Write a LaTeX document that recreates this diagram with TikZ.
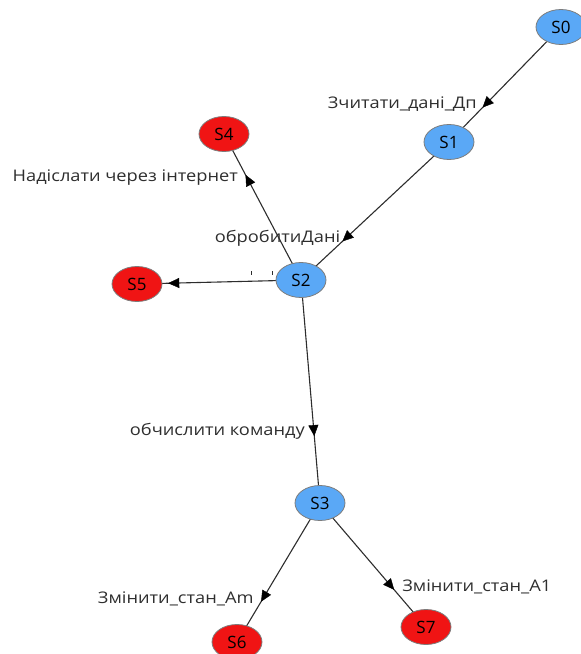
\documentclass[tikz,border=0pt]{standalone}
\usepackage{fontspec}
\setmainfont{Open Sans}
\newfontfamily\lblfont{Open Sans}[FakeStretch=1.14]
\usetikzlibrary{arrows.meta,decorations.markings,shapes.geometric}

\definecolor{stateblue}{RGB}{90,168,246}
\definecolor{statered}{RGB}{240,20,20}
\definecolor{rimgray}{RGB}{125,125,125}
\definecolor{linegray}{RGB}{45,45,45}

\tikzset{
  state/.style={ellipse, draw=rimgray, line width=0.8pt, minimum width=50pt,
    minimum height=35pt, inner sep=0pt, font=\fontsize{17}{19}\selectfont},
  bluestate/.style={state, fill=stateblue},
  redstate/.style={state, fill=statered},
  edge/.style={draw=linegray, line width=1.1pt},
  lbl/.style={font=\lblfont\fontsize{16}{18}\selectfont, text=black!82, inner sep=0pt},
  tip at/.style={decoration={markings, mark=at position #1 with
    {\arrow{Triangle[length=11pt,width=10pt]}}}, decorate},
}

\begin{document}
\begin{tikzpicture}[x=1pt, y=-1pt]
  \useasboundingbox (0,0) rectangle (581,654);

  % state positions
  \coordinate (p0) at (561,27);
  \coordinate (p1) at (449,142);
  \coordinate (p2) at (301,280);
  \coordinate (p3) at (320,503);
  \coordinate (p4) at (224,134);
  \coordinate (p5) at (137,284);
  \coordinate (p6) at (237,642);
  \coordinate (p7) at (426,627);

  % connectors
  \draw[edge] (p0) -- (p1);
  \draw[edge] (p1) -- (p2);
  \draw[edge] (p2) -- (p4);
  \draw[edge] (p2) -- (p5);
  \draw[edge] (p2) -- (p3);
  \draw[edge] (p3) -- (p6);
  \draw[edge] (p3) -- (p7);

  % arrow heads along the connectors
  \path[tip at=0.70, fill=black] (p0) -- (p1);
  \path[tip at=0.72, fill=black] (p1) -- (p2);
  \path[tip at=0.72, fill=black] (p2) -- (p4);
  \path[tip at=0.81, fill=black] (p2) -- (p5);
  \path[tip at=0.70, fill=black] (p2) -- (p3);
  \path[tip at=0.71, fill=black] (p3) -- (p6);
  \path[tip at=0.70, fill=black] (p3) -- (p7);

  % transition labels
  \path (p0) -- (p1) node[pos=0.67, lbl, anchor=east, xshift=-9pt] (l01) {Зчитати\_дані\_Дп};
  \path (p1) -- (p2) node[pos=0.70, lbl, anchor=east, xshift=-5pt] (l12) {обробитиДані};
  \path (p2) -- (p4) node[pos=0.70, lbl, anchor=east, xshift=-9pt] (l24) {Надіслати через інтернет};
  \path (p2) -- (p3) node[pos=0.68, lbl, anchor=east, xshift=-9pt] (l23) {обчислити команду};
  \path (p3) -- (p6) node[pos=0.69, lbl, anchor=east, xshift=-9pt] (l36) {Змінити\_стан\_Am};
  \path (p3) -- (p7) node[pos=0.68, lbl, anchor=west, xshift=10pt] (l37) {Змінити\_стан\_A1};

  % two small ticks above the S2--S5 connector
  \draw[linegray, line width=0.7pt] (251,271) -- (251,275);
  \draw[linegray, line width=0.7pt] (272,271) -- (272,275);

  % states
  \node[bluestate] (S0) at (p0) {S0};
  \node[bluestate] (S1) at (p1) {S1};
  \node[bluestate] (S2) at (p2) {S2};
  \node[bluestate] (S3) at (p3) {S3};
  \node[redstate] (S4) at (p4) {S4};
  \node[redstate] (S5) at (p5) {S5};
  \node[redstate] (S6) at (p6) {S6};
  \node[redstate] (S7) at (p7) {S7};
\end{tikzpicture}
\end{document}
